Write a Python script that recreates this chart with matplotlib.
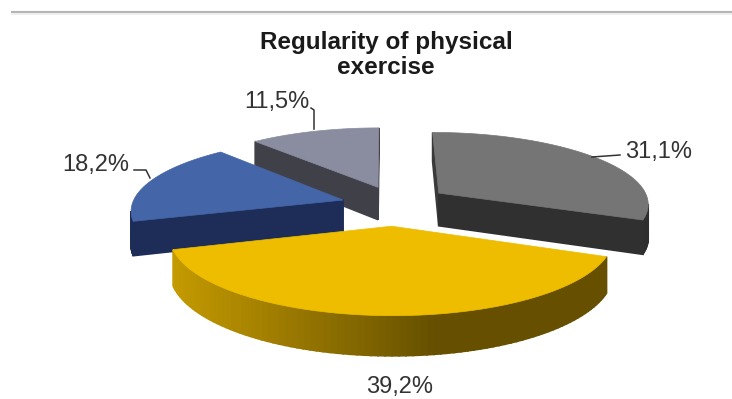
import numpy as np
import matplotlib
matplotlib.use('Agg')
import matplotlib.pyplot as plt
from matplotlib.colors import to_rgb

# slices, clockwise from the top
shares = [31.1, 39.2, 18.2, 11.5]
top_colors = ['#757575', '#eebd00', '#4465a8', '#8a8c9f']
side_left = ['#3a3a3a', '#c49a00', '#1e2d58', '#404048']
side_right = ['#2e2e2e', '#665000', '#1e2d58', '#404048']
# how far each slice is pulled out of the pie
shift_x = [0.26, 0.03, -0.2, -0.034]
shift_y = [0.085, -0.37, -0.015, 0.17]
draw_order = [3, 0, 2, 1]

title = 'Regularity of physical\nexercise'

# projection of the tilted pie, in pixels
cx, cy = 385, 199
rx, ry = 209, 70
persp = 0.13
height = 33


def project(x, y, z=0):
    s = 1 / (1 + persp * y)
    return np.array([cx + rx * x * s, cy - ry * y * s + height * z * s])


def area(pts):
    pts = np.array(pts)
    x, y = pts[:, 0], pts[:, 1]
    return 0.5 * np.sum(x * np.roll(y, -1) - np.roll(x, -1) * y)


def mix(c1, c2, t):
    c1, c2 = np.array(to_rgb(c1)), np.array(to_rgb(c2))
    return tuple(c1 + (c2 - c1) * t)


fig = plt.figure(figsize=(7.32, 3.99), dpi=100)
ax = fig.add_axes([0, 0, 1, 1])
ax.set_xlim(0, 732)
ax.set_ylim(399, 0)
ax.axis('off')

# rule along the top
ax.plot([11, 732], [12, 12], color='#b4b4b4', lw=1.5, solid_capstyle='butt')
ax.plot([11, 732], [14, 14], color='#efefef', lw=1.5, solid_capstyle='butt')

angles = 90 - np.concatenate([[0], np.cumsum(shares)]) * 3.6

for i in draw_order:
    a1, a2 = np.radians(angles[i]), np.radians(angles[i + 1])
    tt = np.linspace(a1, a2, 90)
    xs = np.concatenate([[0], np.cos(tt), [0]]) + shift_x[i]
    ys = np.concatenate([[0], np.sin(tt), [0]]) + shift_y[i]
    top = [project(x, y) for x, y in zip(xs, ys)]
    low = [project(x, y, 1) for x, y in zip(xs, ys)]
    xmin = min(p[0] for p in top)
    xmax = max(p[0] for p in top)
    for k in range(len(top) - 1):
        quad = [top[k], top[k + 1], low[k + 1], low[k]]
        if area(quad) < 0:
            t = ((top[k][0] + top[k + 1][0]) / 2 - xmin) / (xmax - xmin)
            col = mix(side_left[i], side_right[i], min(t / 0.6, 1))
            ax.fill([p[0] for p in quad], [p[1] for p in quad], color=col, lw=1.2)
    ax.fill([p[0] for p in top], [p[1] for p in top], color=top_colors[i], lw=0.5)

ax.text(386, 55, title, ha='center', va='center', fontsize=17.5, fontweight='bold',
        family='Liberation Sans', color='#1a1a1a', linespacing=1.12)

label_pos = [(659, 152), (400, 387), (96, 165), (277, 102)]
leaders = [[(592, 157), (620, 155)],
           None,
           [(134, 170), (146, 170), (150, 178)],
           [(311, 108), (314, 110), (314, 129)]]
for i, v in enumerate(shares):
    s = ('%.1f%%' % v).replace('.', ',')
    ax.text(label_pos[i][0], label_pos[i][1], s, ha='center', va='center', fontsize=17,
            family='Liberation Sans', color='#333333')
    if leaders[i]:
        ax.plot([p[0] for p in leaders[i]], [p[1] for p in leaders[i]], color='#333333', lw=1.1)

fig.savefig('out.png', dpi=100)
